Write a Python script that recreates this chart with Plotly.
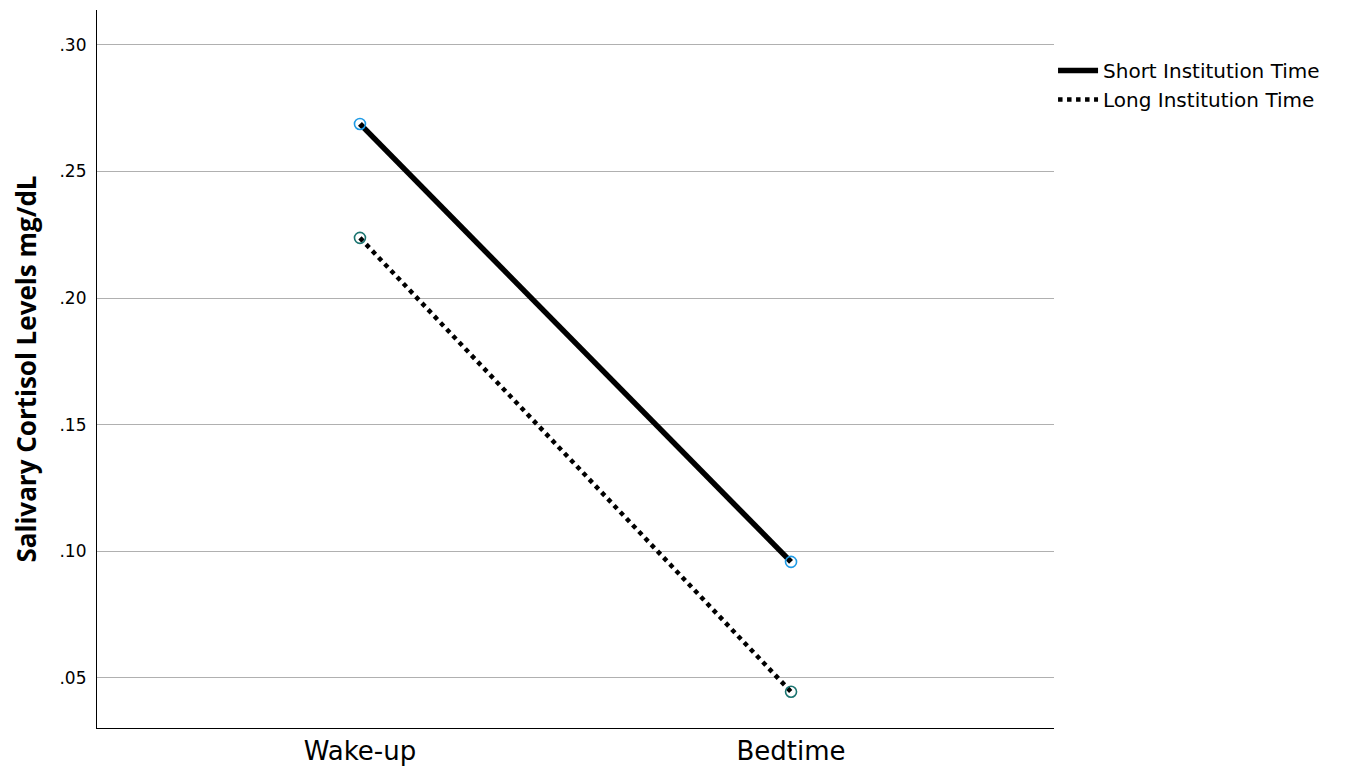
import plotly.graph_objects as go

categories = ["Wake-up", "Bedtime"]
short_vals = [0.2688, 0.0958]
long_vals = [0.2238, 0.0445]
series_names = ["Short Institution Time", "Long Institution Time"]
tick_vals = [0.05, 0.10, 0.15, 0.20, 0.25, 0.30]
tick_text = [".05", ".10", ".15", ".20", ".25", ".30"]

fig = go.Figure()
fig.add_trace(go.Scatter(
    x=categories, y=short_vals, name=series_names[0], mode="lines",
    line=dict(color="black", width=5.5), showlegend=True))
fig.add_trace(go.Scatter(
    x=categories, y=long_vals, name=series_names[1], mode="lines",
    line=dict(color="black", width=4.5, dash="dot"), showlegend=True))
fig.add_trace(go.Scatter(
    x=categories, y=short_vals, mode="markers", showlegend=False,
    marker=dict(symbol="circle-open", size=11, color="#1f9be6", line=dict(width=1.6))))
fig.add_trace(go.Scatter(
    x=categories, y=long_vals, mode="markers", showlegend=False,
    marker=dict(symbol="circle-open", size=11, color="#1a7470", line=dict(width=1.6))))

fig.update_layout(
    width=1344, height=761,
    margin=dict(l=89, r=298, t=2, b=41),
    plot_bgcolor="white", paper_bgcolor="white",
    font=dict(family="DejaVu Sans, sans-serif", color="black"),
    legend=dict(x=0.999, y=0.943, xanchor="left", yanchor="top",
                font=dict(size=20, family="DejaVu Sans"), tracegroupgap=0, itemwidth=40,
                bgcolor="rgba(0,0,0,0)"),
)
fig.update_xaxes(
    type="category", range=[-0.61, 1.61], showgrid=False,
    showline=True, linecolor="black", linewidth=1.2,
    ticks="", tickfont=dict(size=26, family="DejaVu Sans"), zeroline=False)
fig.update_yaxes(
    range=[0.0302, 0.3138], tickvals=tick_vals, ticktext=tick_text,
    showgrid=True, gridcolor="#b0b0b0", gridwidth=1.2,
    showline=True, linecolor="black", linewidth=1.2,
    ticks="", ticklabelstandoff=6, tickfont=dict(size=17, family="DejaVu Sans"), zeroline=False,
    title=dict(text="<b>Salivary Cortisol Levels mg/dL</b>",
               font=dict(size=26, family="Open Sans"), standoff=24))

fig.write_html("out.html")
